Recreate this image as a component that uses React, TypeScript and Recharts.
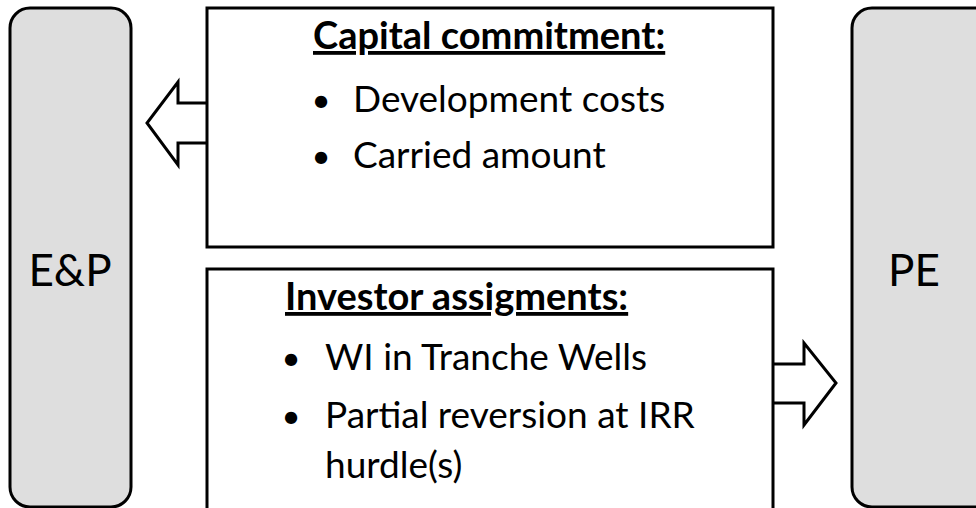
import React from "react";
import {
  ComposedChart,
  XAxis,
  YAxis,
  Line,
  ReferenceArea,
  ReferenceDot,
  Rectangle,
} from "recharts";

const W = 976;
const H = 508;

// text content
const SIDE_LABELS = ["E&P", "PE"];
const TOP_TITLE = "Capital commitment:";
const TOP_ITEMS = ["Development costs", "Carried amount"];
const BOTTOM_TITLE = "Investor assigments:";
const BOTTOM_ITEMS = ["WI in Tranche Wells", "Partial reversion at IRR", "hurdle(s)"];

// shape geometry, in diagram units (x: 0..976, y: 0..508 top-down)
const SIDE_BOXES = [
  { x1: 10, x2: 131, y1: 8, y2: 507 },
  { x1: 852, x2: 1000, y1: 8, y2: 507 },
];
const MID_BOXES = [
  { x1: 207, x2: 773, y1: 8, y2: 247 },
  { x1: 207, x2: 773, y1: 269, y2: 530 },
];
const LEFT_ARROW = [
  { x: 207, y: 103 },
  { x: 178, y: 103 },
  { x: 178, y: 82 },
  { x: 147, y: 123 },
  { x: 178, y: 165 },
  { x: 178, y: 143 },
  { x: 207, y: 143 },
];
const RIGHT_ARROW = [
  { x: 773, y: 364 },
  { x: 804, y: 364 },
  { x: 804, y: 343 },
  { x: 836, y: 383 },
  { x: 804, y: 425 },
  { x: 804, y: 403 },
  { x: 773, y: 403 },
];

const FONT = "Lato, 'Open Sans', sans-serif";

interface TextSpec {
  text: string;
  x: number;
  y: number;
  size: number;
  anchor?: "start" | "middle";
  bold?: boolean;
  underline?: boolean;
}

const texts: TextSpec[] = [
  { text: SIDE_LABELS[0], x: 70, y: 286, size: 44, anchor: "middle" },
  { text: SIDE_LABELS[1], x: 914, y: 286, size: 44, anchor: "middle" },

  { text: TOP_TITLE, x: 313, y: 49, size: 38, bold: true, underline: true },
  { text: "•", x: 321, y: 112, size: 33, anchor: "middle" },
  { text: TOP_ITEMS[0], x: 353, y: 112, size: 37 },
  { text: "•", x: 321, y: 168, size: 33, anchor: "middle" },
  { text: TOP_ITEMS[1], x: 353, y: 168, size: 37 },

  { text: BOTTOM_TITLE, x: 285, y: 310, size: 38, bold: true, underline: true },
  { text: "•", x: 291, y: 370, size: 33, anchor: "middle" },
  { text: BOTTOM_ITEMS[0], x: 325, y: 370, size: 37 },
  { text: "•", x: 291, y: 428, size: 33, anchor: "middle" },
  { text: BOTTOM_ITEMS[1], x: 325, y: 428, size: 37 },
  { text: BOTTOM_ITEMS[2], x: 325, y: 478, size: 37 },
];

const roundedShape = (p: any) => <Rectangle {...p} radius={20} />;

export default function App() {
  return (
    <div style={{ position: "absolute", left: 0, top: 0, width: W, height: H, background: "#fff" }}>
      <ComposedChart width={W} height={H} margin={{ top: 0, right: 0, bottom: 0, left: 0 }}>
        <XAxis type="number" dataKey="x" domain={[0, W]} allowDataOverflow hide />
        <YAxis type="number" dataKey="y" domain={[0, H]} reversed allowDataOverflow hide />

        {SIDE_BOXES.map((b, i) => (
          <ReferenceArea
            key={`side-${i}`}
            {...b}
            ifOverflow="visible"
            fill="#dedede"
            fillOpacity={1}
            stroke="#000"
            strokeWidth={3}
            shape={roundedShape}
          />
        ))}
        {MID_BOXES.map((b, i) => (
          <ReferenceArea
            key={`mid-${i}`}
            {...b}
            ifOverflow="visible"
            fill="#fff"
            fillOpacity={1}
            stroke="#000"
            strokeWidth={3}
          />
        ))}

        <Line
          data={LEFT_ARROW}
          dataKey="y"
          type="linear"
          stroke="#000"
          strokeWidth={3}
          strokeLinejoin="miter"
          dot={false}
          activeDot={false}
          isAnimationActive={false}
        />
        <Line
          data={RIGHT_ARROW}
          dataKey="y"
          type="linear"
          stroke="#000"
          strokeWidth={3}
          strokeLinejoin="miter"
          dot={false}
          activeDot={false}
          isAnimationActive={false}
        />

        {texts.map((t, i) => (
          <ReferenceDot
            key={`t-${i}`}
            x={t.x}
            y={t.y}
            r={0}
            fill="none"
            stroke="none"
            ifOverflow="visible"
            label={(lp: any) => (
              <text
                x={lp.viewBox.x}
                y={lp.viewBox.y}
                textAnchor={t.anchor ?? "start"}
                fontFamily={FONT}
                fontSize={t.size}
                fontWeight={t.bold ? 700 : 400}
                textDecoration={t.underline ? "underline" : undefined}
                style={t.underline ? { textDecorationThickness: 3 } : undefined}
                fill="#000"
              >
                {t.text}
              </text>
            )}
          />
        ))}
      </ComposedChart>
    </div>
  );
}
